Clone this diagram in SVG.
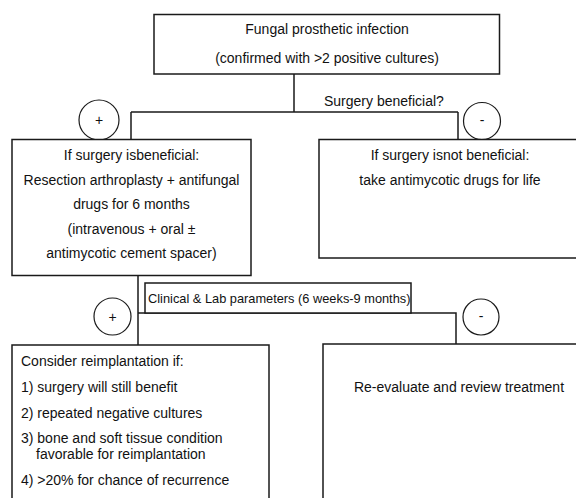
<svg xmlns="http://www.w3.org/2000/svg" width="576" height="498" viewBox="0 0 576 498">
<style>
.box{fill:#fff;stroke:#1a1a1a;stroke-width:1.5}
.ln{fill:none;stroke:#1a1a1a;stroke-width:1.5}
.c{fill:#fff;stroke:#1a1a1a;stroke-width:1.2}
text{font-family:"Liberation Sans",Arial,sans-serif;font-size:14px;fill:#111}
.m{text-anchor:middle}
.s{font-size:12.8px}
</style>
<rect width="576" height="498" fill="#fff"/>
<g id="connectors">
<path class="ln" d="M294,74 V112 M131,112 H458 M131,112 V139 M458,112 V139"/>
<path class="ln" d="M138,276 V345 M138,313 H456 V344"/>
</g>
<g id="n-top">
<rect class="box" x="154" y="14.5" width="345.5" height="59.5"/>
<text class="m" x="327" y="34">Fungal prosthetic infection</text>
<text class="m" x="327" y="63">(confirmed with &gt;2 positive cultures)</text>
</g>
<g id="q1">
<text x="324" y="106">Surgery beneficial?</text>
</g>
<g id="plus1"><circle class="c" cx="99" cy="120" r="20"/><text class="m" x="99" y="125">+</text></g>
<g id="minus1"><circle class="c" cx="482" cy="121" r="18.5"/><text class="m" x="482" y="125">-</text></g>
<g id="n-left">
<rect class="box" x="12" y="139.5" width="239" height="136"/>
<text class="m" x="131.5" y="160">If surgery isbeneficial:</text>
<text class="m" x="131.5" y="184.5">Resection arthroplasty + antifungal</text>
<text class="m" x="131.5" y="209">drugs for 6 months</text>
<text class="m" x="131.5" y="233.5">(intravenous + oral ±</text>
<text class="m" x="131.5" y="258">antimycotic cement spacer)</text>
</g>
<g id="n-right">
<rect class="box" x="319" y="139.5" width="270" height="118.5"/>
<text class="m" x="450" y="160">If surgery isnot beneficial:</text>
<text class="m" x="450" y="184.5">take antimycotic drugs for life</text>
</g>
<g id="n-params">
<rect class="box" x="145" y="283" width="266" height="30"/>
<text class="s" x="148" y="303">Clinical &amp; Lab parameters (6 weeks-9 months)</text>
</g>
<g id="plus2"><circle class="c" cx="112.5" cy="316.5" r="18.5"/><text class="m" x="112.5" y="321.5">+</text></g>
<g id="minus2"><circle class="c" cx="481" cy="317" r="18"/><text class="m" x="481" y="321">-</text></g>
<g id="n-reimpl">
<rect class="box" x="12" y="345" width="257" height="170"/>
<text x="21" y="366">Consider reimplantation if:</text>
<text x="21" y="392">1) surgery will still benefit</text>
<text x="21" y="418">2) repeated negative cultures</text>
<text x="21" y="443">3) bone and soft tissue condition</text>
<text x="36" y="459">favorable for reimplantation</text>
<text x="21" y="485">4) &gt;20% for chance of recurrence</text>
</g>
<g id="n-reeval">
<rect class="box" x="323" y="344" width="270" height="170"/>
<text class="m" x="459" y="392">Re-evaluate and review treatment</text>
</g>
</svg>
